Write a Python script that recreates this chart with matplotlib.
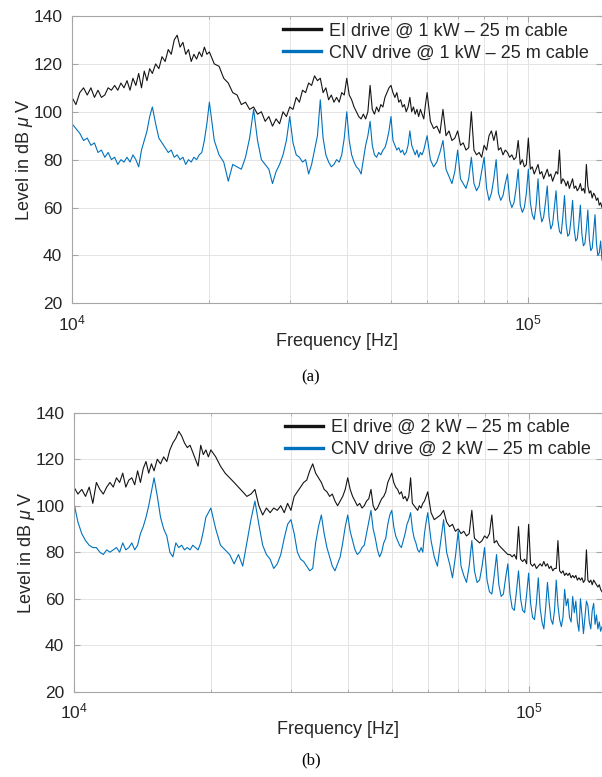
import numpy as np
import matplotlib
matplotlib.use("Agg")
import matplotlib.pyplot as plt
from matplotlib.ticker import LogLocator, NullFormatter

plt.rcParams['font.family'] = ['Liberation Sans', 'DejaVu Sans']
plt.rcParams['mathtext.fontset'] = 'custom'
plt.rcParams['mathtext.rm'] = 'Liberation Sans'
plt.rcParams['mathtext.it'] = 'Liberation Sans:italic'

# ---------------- data ----------------
freq_khz = [
    10.0, 10.2, 10.4, 10.6, 10.8, 11.0, 11.2, 11.4, 11.6, 11.8, 12.0, 12.2, 12.4,
    12.6, 12.8, 13.0, 13.2, 13.4, 13.6, 13.8, 14.0, 14.2, 14.4, 14.6, 14.8, 15.0,
    15.25, 15.5, 15.75, 16.0, 16.25, 16.5, 16.75, 17.0, 17.25, 17.5,
    17.75, 18.0, 18.25, 18.5, 18.75, 19.0, 19.25, 19.5, 19.75, 20.0,
    20.5, 21, 21.5, 22, 22.5, 23, 23.5, 24, 24.5, 25,
    25.5, 26, 26.5, 27, 27.5, 28, 28.5, 29, 29.5, 30,
    30.5, 31, 31.5, 32, 32.5, 33, 33.5, 34, 34.5, 35,
    35.5, 36, 36.5, 37, 37.5, 38, 38.5, 39, 39.5, 40,
    40.5, 41, 41.5, 42, 42.5, 43, 43.5, 44, 44.5, 45,
    45.5, 46, 46.5, 47, 47.5, 48, 48.5, 49, 49.5, 50,
    50.5, 51, 51.5, 52, 52.5, 53, 53.5, 54, 54.5, 55,
    55.5, 56, 56.5, 57, 57.5, 58, 58.5, 59, 59.5, 60,
    61, 62, 63, 64, 65, 66, 67, 68, 69, 70,
    71, 72, 73, 74, 75, 76, 77, 78, 79, 80,
    81, 82, 83, 84, 85, 86, 87, 88, 89, 90,
    91, 92, 93, 94, 95, 96, 97, 98, 99, 100,
    101, 102, 103, 104, 105, 106, 107, 108, 109, 110,
    111, 112, 113, 114, 115, 116, 117, 118, 119, 120,
    121, 122, 123, 124, 125, 126, 127, 128, 129, 130,
    131, 132, 133, 134, 135, 136, 137, 138, 139, 140,
    141, 142, 143, 144, 145,
]

ei_1kw = [
    106, 103, 108, 110, 107, 110, 106, 109, 106, 107, 110, 109, 111,
    109, 112, 110, 113, 109, 114, 111, 116, 110, 117, 113, 118, 116,
    120, 118, 123, 121, 126, 124, 130, 132, 127, 129,
    124, 126, 121, 124, 122, 125, 123, 127, 124, 125,
    120, 119, 114, 112, 108, 107, 103, 104, 101, 102,
    99, 100, 96, 98, 94, 97, 95, 100, 98, 102,
    101, 106, 104, 109, 108, 112, 111, 115, 113, 114,
    108, 110, 105, 107, 104, 106, 104, 108, 107, 114,
    107, 105, 102, 100, 98, 97, 99, 97, 100, 111,
    101, 99, 102, 100, 103, 102, 106, 108, 110, 111,
    108, 106, 108, 104, 105, 102, 103, 100, 102, 106,
    100, 102, 99, 101, 98, 101, 99, 97, 103, 108,
    96, 93, 94, 91, 101, 90, 92, 88, 89, 92,
    86, 87, 84, 85, 100, 84, 82, 83, 81, 86,
    84, 90, 92, 88, 92, 84, 85, 82, 84, 83,
    81, 82, 80, 81, 88, 78, 80, 77, 78, 89,
    76, 77, 74, 76, 78, 74, 75, 72, 74, 76,
    73, 74, 71, 73, 75, 74, 84, 70, 72, 71,
    69, 71, 68, 70, 72, 68, 69, 67, 68, 70,
    67, 68, 66, 78, 69, 66, 67, 64, 66, 65,
    63, 64, 61, 62, 60,
]

cnv_1kw = [
    95, 93, 91, 88, 89, 86, 87, 83, 84, 81, 83, 80, 81,
    78, 80, 79, 81, 79, 82, 80, 77, 84, 88, 92, 98, 102,
    95, 89, 87, 85, 83, 84, 81, 82, 80, 81,
    78, 80, 79, 81, 80, 82, 83, 88, 95, 104,
    88, 82, 79, 71, 78, 77, 76, 81, 89, 101,
    88, 80, 78, 76, 70, 75, 78, 82, 88, 98,
    87, 82, 81, 79, 80, 74, 78, 84, 90, 105,
    89, 82, 79, 77, 78, 80, 79, 82, 89, 100,
    88, 82, 79, 77, 76, 74, 80, 86, 90, 96,
    86, 82, 81, 83, 82, 84, 85, 88, 92, 98,
    88, 86, 84, 85, 83, 84, 82, 83, 86, 92,
    86, 84, 82, 84, 81, 83, 82, 84, 87, 90,
    80, 77, 79, 83, 88, 76, 73, 70, 75, 84,
    72, 70, 68, 72, 81, 70, 67, 69, 75, 81,
    68, 63, 66, 72, 80, 66, 63, 65, 70, 74,
    63, 60, 62, 68, 76, 61, 58, 60, 66, 76,
    62, 57, 55, 61, 72, 59, 54, 56, 62, 69,
    56, 51, 53, 60, 67, 55, 50, 49, 56, 65,
    53, 48, 49, 55, 63, 51, 46, 47, 53, 61,
    49, 44, 45, 51, 59, 47, 42, 43, 50, 57,
    45, 40, 41, 46, 38,
]

ei_2kw = [
    108, 105, 107, 104, 108, 101, 110, 107, 105, 108, 110, 108, 112,
    110, 114, 108, 111, 112, 109, 115, 110, 116, 119, 114, 118, 115,
    120, 118, 121, 119, 124, 127, 129, 132, 130, 127,
    125, 126, 123, 120, 117, 126, 122, 124, 121, 124,
    121, 117, 114, 112, 110, 108, 106, 104, 105, 107,
    100, 96, 99, 97, 99, 98, 100, 97, 101, 98,
    104, 106, 108, 110, 111, 115, 118, 114, 112, 110,
    107, 106, 104, 105, 102, 100, 102, 104, 107, 112,
    107, 104, 102, 100, 101, 99, 100, 102, 103, 107,
    100, 98, 99, 101, 103, 104, 106, 110, 112, 114,
    110, 108, 107, 105, 106, 103, 104, 102, 104, 112,
    101, 100, 99, 98, 100, 99, 101, 102, 104, 106,
    97, 94, 95, 96, 98, 93, 91, 92, 89, 90,
    88, 89, 87, 88, 98, 86, 85, 84, 85, 87,
    86, 88, 96, 84, 85, 83, 82, 81, 80, 79,
    79, 78, 79, 77, 91, 77, 76, 77, 75, 92,
    75, 74, 75, 73, 74, 75, 74, 76, 74, 75,
    73, 74, 72, 73, 73, 85, 72, 71, 72, 70,
    71, 70, 71, 69, 70, 69, 70, 68, 69, 68,
    69, 67, 68, 81, 68, 67, 68, 66, 68, 67,
    66, 65, 66, 64, 63,
]

cnv_2kw = [
    101, 93, 88, 85, 83, 82, 82, 80, 79, 81, 80, 81, 82,
    80, 84, 81, 82, 84, 81, 83, 88, 91, 95, 100, 106, 112,
    104, 95, 90, 87, 80, 78, 84, 82, 83, 81,
    82, 81, 83, 82, 81, 84, 89, 95, 97, 99,
    90, 83, 81, 79, 75, 79, 74, 84, 94, 102,
    92, 83, 79, 77, 73, 75, 79, 86, 92, 94,
    88, 80, 77, 76, 74, 72, 73, 84, 91, 96,
    88, 82, 78, 74, 72, 75, 78, 84, 91, 96,
    89, 85, 81, 79, 80, 82, 83, 88, 93, 98,
    90, 86, 81, 78, 80, 84, 86, 92, 96, 98,
    91, 87, 85, 83, 82, 85, 88, 92, 94, 97,
    90, 86, 84, 81, 80, 82, 80, 88, 93, 97,
    85, 78, 74, 84, 94, 80, 75, 69, 78, 89,
    74, 70, 67, 74, 85, 72, 67, 68, 74, 82,
    68, 63, 62, 70, 79, 66, 61, 62, 69, 75,
    62, 56, 55, 63, 72, 60, 55, 54, 62, 71,
    58, 52, 51, 58, 69, 56, 50, 47, 56, 67,
    58, 51, 49, 55, 68, 57, 51, 48, 52, 64,
    57, 60, 52, 50, 61, 54, 59, 50, 46, 60,
    53, 45, 52, 59, 57, 50, 47, 55, 58, 49,
    53, 47, 50, 46, 48,
]

y_ticks = [20, 40, 60, 80, 100, 120, 140]
labels_a = ["EI drive @ 1 kW \u2013 25 m cable", "CNV drive @ 1 kW \u2013 25 m cable"]
labels_b = ["EI drive @ 2 kW \u2013 25 m cable", "CNV drive @ 2 kW \u2013 25 m cable"]
captions = ["(a)", "(b)"]

for s in (ei_1kw, cnv_1kw, ei_2kw, cnv_2kw):
    assert len(s) == len(freq_khz), (len(s), len(freq_khz))

# ---------------- figure ----------------
W, H = 602, 777
fig = plt.figure(figsize=(W / 100, H / 100), dpi=100)


def add_ax(l, t, r, b):
    return fig.add_axes([l / W, 1 - b / H, (r - l) / W, (b - t) / H])


ax_a = add_ax(72, 16, 602, 303.3)
ax_b = add_ax(74, 412.7, 602, 691.7)

f_hz = np.array(freq_khz) * 1e3
EI_COLOR = '#141414'
CNV_COLOR = '#0072BD'
FS = 13

for ax, ei, cnv, labels, cap, cap_y in (
        (ax_a, ei_1kw, cnv_1kw, labels_a, captions[0], 377),
        (ax_b, ei_2kw, cnv_2kw, labels_b, captions[1], 760)):
    ax.plot(f_hz, ei, color=EI_COLOR, lw=0.8, label=labels[0])
    ax.plot(f_hz, cnv, color=CNV_COLOR, lw=0.8, label=labels[1])
    ax.set_xscale('log')
    ax.set_xlim(1e4, 1.45e5)
    ax.set_ylim(20, 140)
    ax.set_yticks(y_ticks)
    ax.xaxis.set_major_locator(LogLocator(base=10, numticks=10))
    ax.xaxis.set_minor_locator(LogLocator(base=10, subs=np.arange(2, 10), numticks=10))
    ax.xaxis.set_minor_formatter(NullFormatter())
    ax.grid(True, which='major', color='#e4e4e4', lw=0.7)
    ax.grid(True, which='minor', axis='x', color='#e4e4e4', lw=0.7)
    ax.set_axisbelow(True)
    for sp in ax.spines.values():
        sp.set_color('#a6a6a6')
        sp.set_linewidth(0.8)
    ax.tick_params(which='both', direction='in', top=True, right=True,
                   colors='#a6a6a6', labelcolor='#262626', labelsize=12.5)
    ax.tick_params(which='major', length=4, pad=7)
    ax.tick_params(which='minor', length=2.5)
    ax.set_xlabel("Frequency [Hz]", fontsize=FS, color='#262626', labelpad=0)
    ax.set_ylabel(r"Level in dB $\mu$ V", fontsize=FS, color='#262626', labelpad=-1)
    leg = ax.legend(loc='upper left', bbox_to_anchor=(0.392, 0.99), frameon=False,
                    fontsize=FS, handlelength=2.1, handletextpad=0.45,
                    labelspacing=0.28, borderpad=0.2, borderaxespad=0.0)
    for h in leg.get_lines():
        h.set_linewidth(2.4)
    for t in leg.get_texts():
        t.set_color('#262626')
    fig.text(311 / W, 1 - cap_y / H, cap, ha='center', va='center',
             fontsize=12, family=['Liberation Serif', 'DejaVu Serif'], color='black')

fig.savefig("out.png", dpi=100)
